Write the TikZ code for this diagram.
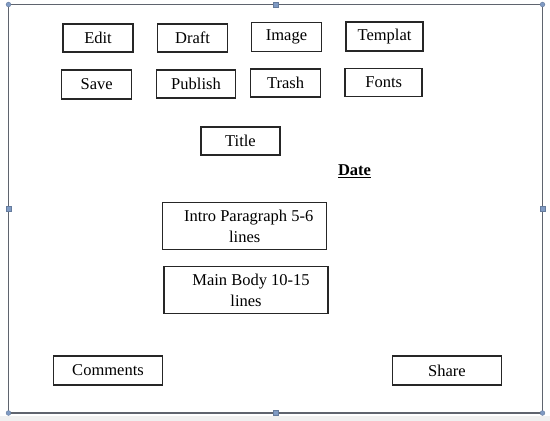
\documentclass[tikz,border=0pt]{standalone}
\usepackage{fontspec}
\setmainfont{Liberation Serif}
\usepackage{tikz}
\definecolor{framegray}{RGB}{95,100,110}
\definecolor{handleblue}{RGB}{128,155,196}
\tikzstyle{every node}=[font=\fontsize{16.5}{20}\selectfont, inner sep=0pt]
\tikzset{box/.style={draw=black!85, line width=1.5pt, minimum width=70pt, minimum height=28pt},
  handle/.style={fill=handleblue, draw=handleblue!80!black, line width=0.4pt}}

\begin{document}
\begin{tikzpicture}[x=1pt, y=-1pt]
		\useasboundingbox (0,0) rectangle (550,421);
		\fill[gray!12] (0,416) rectangle (550,421);
		\draw[framegray, line width=1.1pt] (8.5,4.5) rectangle (542.5,413);
		% handles
		\foreach \hx/\hy in {8.5/4.5, 542.5/4.5, 8.5/413, 542.5/413}
			\filldraw[handle] (\hx,\hy) circle (2.4pt);
		\foreach \hx/\hy in {275.5/4.5, 8.5/209, 542.5/209, 275.5/413}
			\filldraw[handle] (\hx-2.6,\hy-2.6) rectangle (\hx+2.6,\hy+2.6);
		% menu rows
		\node[box] (edit) at (98,38) {Edit};
		\node[box] (draft) at (192.5,38) {Draft};
		\node[box, minimum height=29pt] (image) at (286.5,37) {Image};
		\node[box, minimum width=77pt, minimum height=29pt] (templat) at (384.5,36.5) {Templat};
		\node[box, minimum height=29pt] (save) at (96.7,84.5) {Save};
		\node[box, minimum width=79pt] (publish) at (196,84) {Publish};
		\node[box] (trash) at (285.5,83) {Trash};
		\node[box, minimum width=77pt] (fonts) at (383.7,82.5) {Fonts};
		% page parts
		\node[box, minimum width=79pt] (title) at (240.5,141) {Title};
		\node (date) at (354.5,171) {\underline{\textbf{Date}}};
		\node[box, minimum width=164pt, minimum height=47pt, align=center, font=\fontsize{16.5}{21}\selectfont] (intro) at (244.7,226) {\hspace{8pt}Intro Paragraph 5-6\\lines};
		\node[box, minimum width=164pt, minimum height=47pt, align=center, font=\fontsize{16.5}{21}\selectfont] (mainbody) at (246,290) {\hspace{10pt}Main Body 10-15\\lines};
		% bottom
		\node[box, minimum width=109pt, minimum height=29pt] (comments) at (108,370.5) {Comments};
		\node[box, minimum width=109pt, minimum height=29pt] (share) at (447,370.5) {Share};
\end{tikzpicture}
\end{document}
